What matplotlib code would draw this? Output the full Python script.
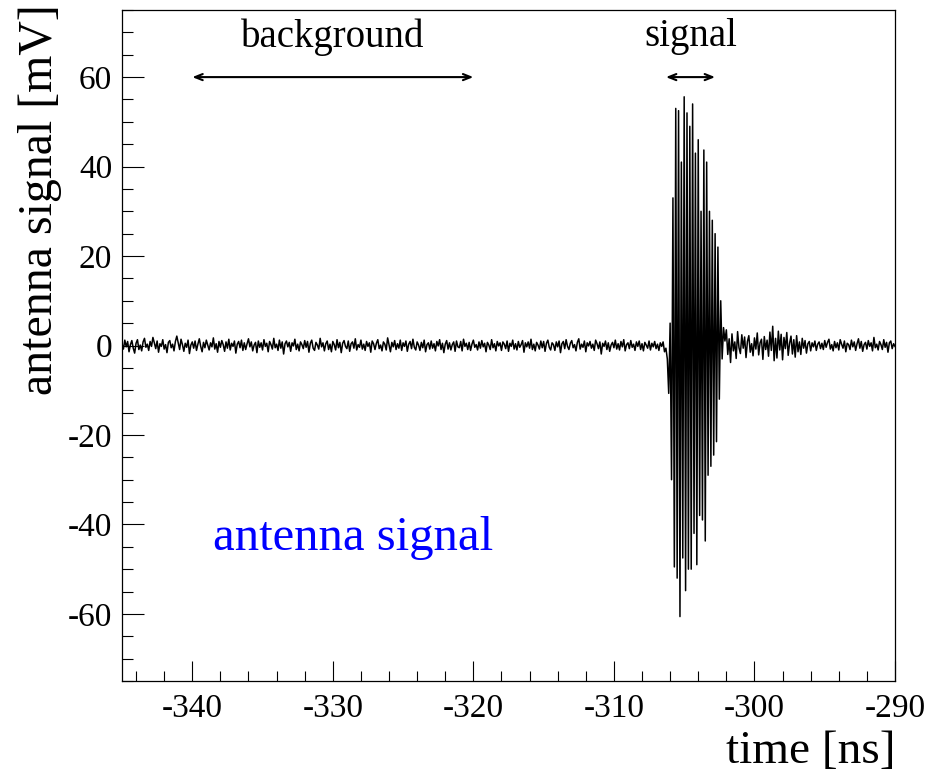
"""Antenna signal trace with background / signal windows (ROOT-style look)."""
import matplotlib
matplotlib.use("Agg")
import matplotlib.pyplot as plt
from matplotlib.ticker import MultipleLocator
import numpy as np

# --- data -------------------------------------------------------------------
T_START = -345.0     # ns, first sample
T_STEP = 0.1         # ns, sample spacing

# one row = 1 ns (10 samples), mV
signal_mv = [
    0.4, -0.8, 1.2, -0.3, 0.9, -1.4, 0.2, 1.1, -0.6, -1.7,      # -345
    0.5, 1.3, -0.9, 0.1, -1.2, 0.8, 1.6, -0.4, 0.3, -1.1,       # -344
    0.9, -0.2, 1.8, 0.6, -0.7, 1.0, -1.5, 0.4, -0.2, 1.3,       # -343
    -0.8, 0.2, -1.6, 0.7, 1.1, -0.5, 0.3, -1.2, 0.9, 2.1,       # -342
    0.6, -0.9, 1.4, 0.2, -1.3, 0.5, -0.4, 1.2, -1.8, 0.1,       # -341
    0.8, -0.6, 1.0, -1.1, 0.3, 1.5, -0.2, -1.4, 0.7, -0.5,      # -340
    1.2, 0.1, -1.0, 0.6, -0.3, 1.7, -0.8, 0.4, -1.5, 0.9,       # -339
    -0.4, 1.1, 0.2, -1.3, 0.8, -0.6, 1.4, -1.0, 0.5, -0.2,      # -338
    1.0, -1.7, 0.3, 0.9, -0.5, 1.2, -1.1, 0.6, -0.9, 0.4,       # -337
    1.5, -0.3, 0.8, -1.2, 0.1, 0.7, -1.6, 1.0, -0.4, 0.6,       # -336
    -1.0, 1.3, -0.2, 0.5, -1.4, 0.9, 0.2, -0.8, 1.6, -0.5,      # -335
    0.3, -1.1, 1.2, -0.6, 0.8, -1.9, 0.4, 1.0, -0.3, 0.7,       # -334
    -1.3, 0.6, -0.1, 1.4, -0.9, 0.3, -1.2, 0.8, 0.2, -0.7,      # -333
    1.1, -0.4, 0.9, -1.5, 0.5, 1.2, -0.6, -1.1, 0.7, 0.1,       # -332
    -0.8, 1.6, -0.3, 0.6, -1.2, 0.4, 1.0, -0.9, 0.3, -1.4,      # -331
    0.9, 0.2, -1.0, 1.3, -0.5, 0.7, -1.6, 0.5, 1.1, -0.2,       # -330
    -0.7, 1.0, -1.3, 0.4, 0.8, -0.6, 1.5, -1.0, 0.2, -0.4,      # -329
    1.2, -0.8, 0.3, -1.1, 0.9, -0.2, 0.6, -1.5, 1.0, 0.4,       # -328
    -0.9, 0.5, 1.3, -0.7, 0.1, -1.2, 0.8, 0.3, -1.0, 1.7,       # -327
    0.2, -1.4, 0.7, -0.3, 1.1, -0.9, 0.4, -0.6, 1.2, -1.1,      # -326
    0.6, -0.2, 1.0, -1.3, 0.3, 0.9, -0.7, 1.4, -0.4, -1.0,      # -325
    0.8, 0.1, -1.1, 0.7, -0.5, 1.2, -1.4, 0.2, 0.6, -0.8,       # -324
    1.0, -0.6, 0.4, -1.2, 0.9, -0.1, 1.3, -0.9, 0.5, -1.6,      # -323
    0.3, 1.1, -0.8, 0.6, -1.0, 0.2, 0.8, -1.3, 1.0, -0.3,       # -322
    -0.5, 0.9, -1.2, 1.4, -0.2, 0.5, -0.9, 0.7, -1.1, 0.3,      # -321
    1.2, -0.4, 0.2, -1.0, 0.8, -0.6, 1.1, -0.3, 0.5, -1.4,      # -320
    0.7, 0.1, -0.9, 1.3, -0.5, 0.4, -1.2, 0.9, -0.1, 0.6,       # -319
    -1.1, 0.8, 0.3, -0.7, 1.0, -1.3, 0.5, -0.2, 1.2, -0.8,      # -318
    0.4, -1.0, 0.9, -0.4, 0.2, 1.1, -1.5, 0.6, -0.3, 0.8,       # -317
    -0.6, 1.4, -0.9, 0.3, -1.2, 0.7, 0.1, -0.8, 1.0, -0.5,      # -316
    0.9, -1.3, 0.5, 1.2, -0.4, -1.0, 0.6, 0.2, -1.1, 0.8,       # -315
    -0.3, 1.0, -1.6, 0.4, 0.9, -0.7, 1.3, -0.2, -0.9, 0.5,      # -314
    1.1, -0.5, 0.2, -1.2, 0.7, 1.5, -0.8, 0.3, -0.4, 1.0,       # -313
    -1.4, 0.6, -0.1, 0.9, -0.6, 0.3, -1.1, 1.2, 0.4, -0.7,      # -312
    0.8, -1.9, 0.5, -0.2, 1.0, -0.9, 0.6, -1.3, 0.1, 0.7,       # -311
    -0.5, 1.2, -0.8, 0.4, -1.0, 0.9, -0.3, 1.3, -1.2, 0.2,      # -310
    0.6, -0.7, 1.1, -0.4, 0.3, -1.1, 0.8, -0.2, 1.0, -0.9,      # -309
    0.4, -1.2, 0.7, 0.1, -0.6, 1.0, -1.0, 0.5, -0.3, 0.9,       # -308
    -0.7, 0.3, -1.1, 0.6, -0.2, 0.8, -1.4, -0.6, -3.0, -10.7,   # -307
    5.0, -30.0, 33.0, -49.5, 53.0, -52.0, 52.5, -60.6, 41.0, -47.5,   # -306
    55.6, -54.8, 52.0, -50.0, 49.0, -50.0, 54.0, -42.0, 43.0, -49.0,  # -305
    46.0, -38.0, 30.0, -39.0, 43.7, -43.7, 41.0, -29.0, 30.0, -27.0,  # -304
    28.0, -24.5, 25.0, -21.5, 22.0, -12.0, 10.0, -3.0, 4.0, 1.0,      # -303
    3.5, -2.0, 1.5, -3.8, 2.6, -1.2, 0.8, -2.9, 3.1, -0.5,      # -302
    -1.8, 2.4, -0.6, 1.9, -2.7, 0.9, 2.2, -1.5, 0.4, -2.3,      # -301
    1.7, -0.8, 2.8, -2.1, 0.6, 1.4, -3.1, 2.0, -0.9, 1.2,       # -300
    -2.4, 3.0, -1.1, 4.3, -3.4, 1.6, -2.8, 3.2, -1.0, 2.5,      # -299
    -3.2, 1.8, -0.7, 2.9, -2.2, 0.5, 2.1, -1.9, 1.3, -2.6,      # -298
    2.2, -1.4, 0.8, -2.0, 1.6, -0.6, 1.1, -1.7, 0.4, 0.9,       # -297
    -1.2, 0.6, -0.3, 1.0, -1.1, 0.3, 0.8, -0.7, 0.5, -0.9,      # -296
    1.1, -0.4, 0.7, 1.4, -0.8, 0.2, -1.2, 0.9, -0.5, 0.6,       # -295
    -1.0, 1.3, 0.3, -0.6, 1.0, -1.4, 0.5, 0.2, -0.9, 1.2,       # -294
    -0.3, 0.8, -1.1, 0.4, 1.5, -0.6, 0.9, -1.3, 0.2, 0.7,       # -293
    -0.8, 1.1, -0.2, 0.6, -1.2, 1.8, -0.5, 0.3, -1.0, 0.9,      # -292
    0.2, -0.9, 1.3, -0.4, 0.7, -1.5, 0.6, 1.0, -0.7, 0.4,       # -291
    -0.2,                                                       # -290
]

# window markers (ns) and their labels
background_window = [-340.0, -320.0]
signal_window = [-306.3, -302.8]
window_y = 60.0            # mV, height of the arrows
label_y = 69.0             # mV, height of the window labels

X_RANGE = (-345, -290)
Y_RANGE = (-75, 75)
# -----------------------------------------------------------------------------

plt.rcParams["font.family"] = ["Liberation Serif", "DejaVu Serif"]
plt.rcParams["axes.unicode_minus"] = False

fig = plt.figure(figsize=(9.46, 7.76), dpi=100)
ax = fig.add_axes([122 / 946, 1 - 681 / 776, (895 - 122) / 946, (681 - 10) / 776])

t = T_START + T_STEP * np.arange(len(signal_mv))
ax.plot(t, signal_mv, color="black", lw=1.1)

ax.set_xlim(*X_RANGE)
ax.set_ylim(*Y_RANGE)

ax.xaxis.set_major_locator(MultipleLocator(10))
ax.xaxis.set_minor_locator(MultipleLocator(2))
ax.yaxis.set_major_locator(MultipleLocator(20))
ax.yaxis.set_minor_locator(MultipleLocator(5))
ax.tick_params(axis="x", which="major", direction="in", length=14.5, width=0.8,
               labelsize=24, pad=9)
ax.tick_params(axis="x", which="minor", direction="in", length=7.2, width=0.8)
ax.tick_params(axis="y", which="major", direction="in", length=15.8, width=0.8,
               labelsize=24, pad=7)
ax.tick_params(axis="y", which="minor", direction="in", length=7.9, width=0.8)
for s in ax.spines.values():
    s.set_linewidth(0.9)

# window arrows + labels
arrow_kw = dict(arrowstyle="<->,head_length=0.55,head_width=0.22",
                color="black", lw=1.5, shrinkA=0, shrinkB=0)
for win, name in [(background_window, "background"), (signal_window, "signal")]:
    ax.annotate("", xy=(win[1], window_y), xytext=(win[0], window_y),
                arrowprops=arrow_kw)
    ax.text(sum(win) / 2, label_y, name, ha="center", va="center", fontsize=28)

ax.text(-338.5, -43, "antenna signal", color="blue", fontsize=35,
        ha="left", va="center")

fig.text(40 / 946, 1 - 4 / 776, "antenna signal [mV]", rotation=90,
         ha="center", va="top", fontsize=34.5)
fig.text(895 / 946, 3 / 776, "time [ns]", ha="right", va="bottom", fontsize=34)

fig.savefig("out.png", dpi=100)
